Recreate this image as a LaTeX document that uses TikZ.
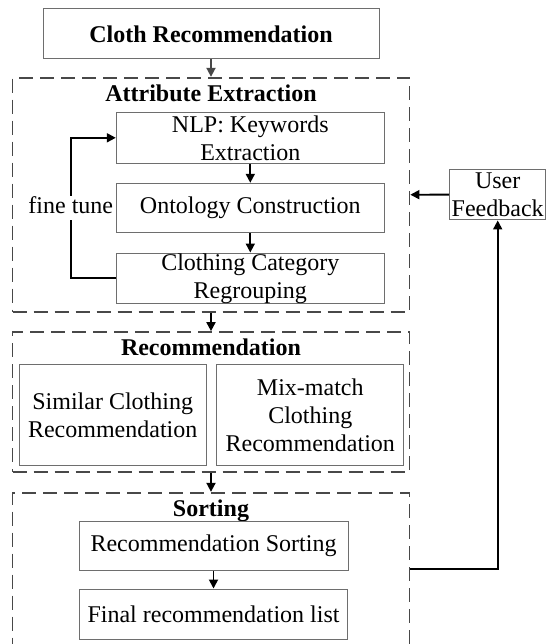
\documentclass[tikz,border=0pt]{standalone}
\usepackage{fontspec}
\setmainfont{Liberation Serif}
\usepackage{tikz}
\usetikzlibrary{arrows.meta,positioning}
\definecolor{edge}{HTML}{6E6E6E}
\definecolor{frame}{HTML}{484848}
\tikzset{
  box/.style={draw=edge,line width=1pt,inner sep=0pt,align=center,font=\fontsize{24}{28}\selectfont},
  group/.style={draw=frame,line width=1.7pt,dash pattern=on 14pt off 7pt,inner sep=0pt},
  title/.style={anchor=base,font=\fontsize{24}{28}\selectfont\bfseries},
  link/.style={line width=1.8pt},
  arr/.style={link,-{Triangle[length=9pt,width=9pt]}}
}
\begin{document}
\begin{tikzpicture}[x=1pt,y=-1pt]
  \clip (0,0) rectangle (547,644);
  \node[box,font=\fontsize{24}{28}\selectfont\bfseries,minimum width=336pt,minimum height=50pt] (cloth) at (211,34) {Cloth Recommendation};
  \node[group,minimum width=397pt,minimum height=234pt] (attr) at (211,194.7) {};
  \node[title] (attrtitle) at (211,101.7) {Attribute Extraction};
  \node[box,minimum width=268pt,minimum height=51pt] (nlp) at (250.3,137.8) {NLP: Keywords\\Extraction};
  \node[box,minimum width=268pt,minimum height=49.4pt,below=19pt of nlp] (onto) {Ontology Construction};
  \node[box,minimum width=268pt,minimum height=50.7pt,below=19.3pt of onto] (regroup) {Clothing Category\\Regrouping};
  \node[font=\fontsize{24}{28}\selectfont,text height=17pt,text depth=7pt,inner sep=0pt] (tune) at (70.8,208) {fine tune};
  \node[box,minimum width=96pt,minimum height=50.7pt] (user) at (497.7,194.6) {User\\Feedback};
  \node[group,minimum width=397pt,minimum height=140pt] (rec) at (211,402) {};
  \node[title] (rectitle) at (211,355.3) {Recommendation};
  \node[box,minimum width=186.7pt,minimum height=100.6pt] (similar) at (112.7,415) {Similar Clothing\\Recommendation};
  \node[box,minimum width=187.3pt,minimum height=100.6pt] (mix) at (310.3,415) {Mix-match\\Clothing\\Recommendation};
  \node[group,minimum width=397pt,minimum height=153pt] (sort) at (211,569.2) {};
  \node[title] (sorttitle) at (211,516) {Sorting};
  \node[box,minimum width=269pt,minimum height=49pt] (rsort) at (213.5,545.8) {Recommendation Sorting};
  \node[box,minimum width=268pt,minimum height=50pt,below=17.7pt of rsort] (final) {Final recommendation list};
  \draw[arr,frame] (cloth.south) -- (attr.north);
  \draw[arr] (nlp) -- (onto);
  \draw[arr] (onto) -- (regroup);
  \draw[link] (regroup.west) -| (tune.south);
  \draw[arr] (tune.north) |- (nlp.west);
  \draw[arr] (user.west) -- (attr.east);
  \draw[arr] (attr.south) -- (rec.north);
  \draw[arr] (rec.south) -- (sort.north);
  \draw[arr] (rsort) -- (final);
  \draw[arr] (sort.east) -| (user.south);
\end{tikzpicture}
\end{document}
